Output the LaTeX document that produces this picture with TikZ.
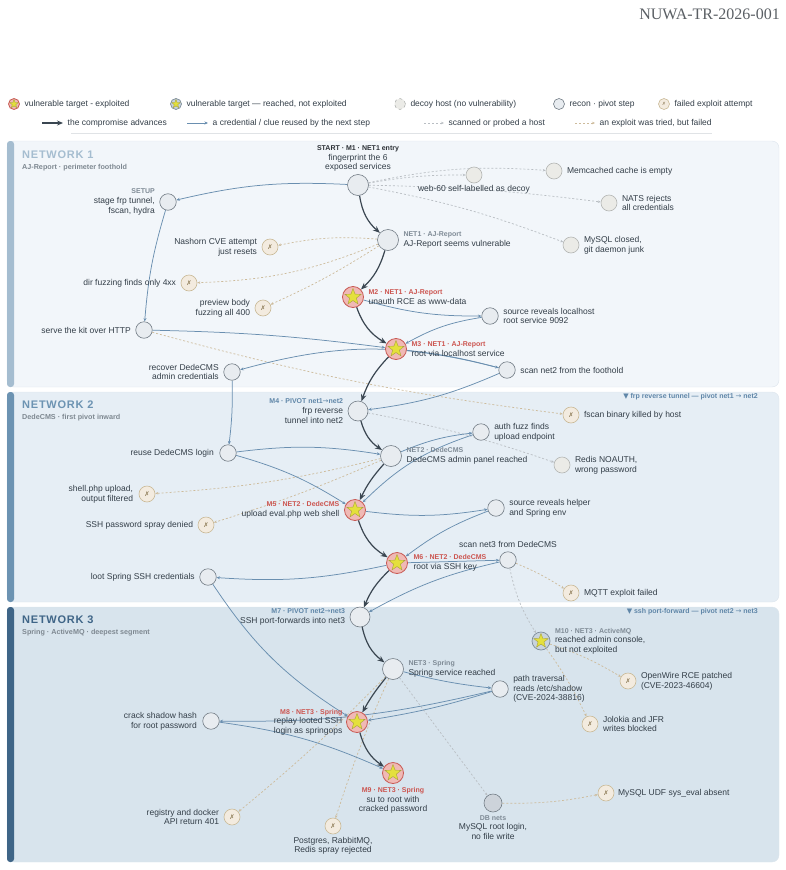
\documentclass[tikz,border=0pt]{standalone}
\usepackage{fontspec}
\setmainfont{Liberation Sans}
\newfontfamily\titlefont{Liberation Serif}
\newfontfamily\symfont{DejaVu Sans}
\newfontfamily\netfont[LetterSpace=7]{Liberation Sans}
\usetikzlibrary{shapes.geometric,arrows.meta,positioning}

\definecolor{ink}{HTML}{333E48}
\definecolor{tagGray}{HTML}{7F8B96}
\definecolor{tagRed}{HTML}{CC5550}
\definecolor{tagBlue}{HTML}{5F86A8}
\definecolor{tagBlack}{HTML}{2B3036}
\definecolor{advCol}{HTML}{3A4651}
\definecolor{clueCol}{HTML}{6A8FB0}
\definecolor{probeCol}{HTML}{B9BEC3}
\definecolor{failCol}{HTML}{CDBB9B}
\definecolor{hitFill}{HTML}{F0B9B5}
\definecolor{hitDraw}{HTML}{C85A55}
\definecolor{starFill}{HTML}{E4E03C}
\definecolor{starDraw}{HTML}{A9A33A}
\definecolor{reachFill}{HTML}{C8D3DD}
\definecolor{reachDraw}{HTML}{7D8C99}
\definecolor{reconFill}{HTML}{E8ECF0}
\definecolor{reconDraw}{HTML}{737D86}
\definecolor{decoyFill}{HTML}{EBEBE7}
\definecolor{decoyDraw}{HTML}{B4B6B4}
\definecolor{failFill}{HTML}{F3EBDF}
\definecolor{failDraw}{HTML}{C9B996}
\definecolor{failMark}{HTML}{8C7A55}
\definecolor{dbFill}{HTML}{CDD3DA}
\definecolor{panA}{HTML}{F2F6FA}
\definecolor{panB}{HTML}{E6EEF5}
\definecolor{panC}{HTML}{D8E4ED}
\definecolor{panEdge}{HTML}{DCE4EC}
\definecolor{barA}{HTML}{A5BDD0}
\definecolor{barB}{HTML}{6C93B2}
\definecolor{barC}{HTML}{3F6587}
\definecolor{subGray}{HTML}{7E8891}
\definecolor{titleGray}{HTML}{5A5F64}
\definecolor{ruleGray}{HTML}{E0E3E6}

\newcommand{\tagG}[1]{{\color{tagGray}\fontsize{7}{8}\selectfont\bfseries #1}}
\newcommand{\tagR}[1]{{\color{tagRed}\fontsize{7}{8}\selectfont\bfseries #1}}
\newcommand{\tagB}[1]{{\color{tagBlue}\fontsize{7}{8}\selectfont\bfseries #1}}
\newcommand{\tagK}[1]{{\color{tagBlack}\fontsize{7}{8}\selectfont\bfseries #1}}
\newcommand{\xmark}{{\symfont ✗}}
\newcommand{\toarrow}{{\symfont\mdseries →}}

\pgfdeclarelayer{panels}
\pgfdeclarelayer{links}
\pgfsetlayers{panels,links,main}

\begin{document}
\begin{tikzpicture}[x=1pt, y=-1pt, node distance=4pt,
	lbl/.style={inner sep=0.5pt, text=ink, font=\fontsize{8.5}{9.6}\selectfont},
	starmark/.style={star, star points=5, star point ratio=2.4, draw=starDraw, fill=starFill, line width=0.4pt, inner sep=0pt, minimum size=#1},
	hit/.style={circle, draw=hitDraw, fill=hitFill, line width=0.8pt, inner sep=0pt, minimum size=21pt,
		path picture={\node[starmark=#1] at (path picture bounding box.center) {};}},
	hit/.default=17pt,
	reach/.style={circle, draw=reachDraw, fill=reachFill, line width=0.7pt, inner sep=0pt, minimum size=18pt,
		path picture={\node[starmark=#1] at (path picture bounding box.center) {};}},
	reach/.default=15pt,
	recon/.style={circle, draw=reconDraw, fill=reconFill, line width=0.6pt, inner sep=0pt, minimum size=#1},
	recon/.default=16.5pt,
	decoy/.style={circle, draw=decoyDraw, fill=decoyFill, line width=0.6pt, inner sep=0pt, minimum size=16pt},
	failed/.style={circle, draw=failDraw, fill=failFill, line width=0.6pt, inner sep=0pt, minimum size=16pt, text=failMark, font=\fontsize{6.5}{6.5}\selectfont},
	db/.style={circle, draw=reconDraw, fill=dbFill, line width=0.6pt, inner sep=0pt, minimum size=18pt},
	adv/.style={draw=advCol, line width=1.2pt, -{Stealth[length=7pt, width=5.5pt]}},
	clue/.style={draw=clueCol, line width=0.75pt, -{Stealth[length=3.5pt, width=3pt]}},
	probe/.style={draw=probeCol, line width=0.7pt, dash pattern=on 2pt off 2pt, -{Stealth[length=3pt, width=2.5pt]}},
	fail/.style={draw=failCol, line width=0.7pt, dash pattern=on 2pt off 2pt, -{Stealth[length=3pt, width=2.5pt]}},
	nettitle/.style={anchor=west, inner sep=0pt, font=\netfont\fontsize{11}{12}\selectfont\bfseries},
	netsub/.style={anchor=west, inner sep=0pt, text=subGray, font=\fontsize{7.2}{8}\selectfont\bfseries},
	pivotnote/.style={anchor=east, inner sep=0pt, text=tagBlue, font=\fontsize{7}{8}\selectfont\bfseries}]

	\useasboundingbox (0,0) rectangle (786,870);

	% Panels
	\begin{pgfonlayer}{panels}
		\path[fill=panA, draw=panEdge, rounded corners=7pt] (7,141) rectangle (779,387);
		\path[fill=barA, rounded corners=3pt] (7,141) rectangle (14,387);
		\path[fill=panB, draw=panEdge, rounded corners=7pt] (7,392) rectangle (779,602);
		\path[fill=barB, rounded corners=3pt] (7,392) rectangle (14,602);
		\path[fill=panC, draw=panEdge, rounded corners=7pt] (7,607) rectangle (779,862);
		\path[fill=barC, rounded corners=3pt] (7,607) rectangle (14,862);
	\end{pgfonlayer}

	\node[anchor=east, inner sep=0pt, text=titleGray, font=\titlefont\fontsize{16}{16}\selectfont] (DocId) at (780,14) {NUWA-TR-2026-001};

	% Legend
	\node[hit=9pt, minimum size=11pt] (LgHit) at (14,104) {};
	\node[lbl, right=of LgHit] (LgHitTxt) {vulnerable target - exploited};
	\node[reach=9pt, minimum size=11pt] (LgReach) at (176,104) {};
	\node[lbl, right=of LgReach] (LgReachTxt) {vulnerable target — reached, not exploited};
	\node[decoy, minimum size=11pt, dashed] (LgDecoy) at (400,104) {};
	\node[lbl, right=of LgDecoy] (LgDecoyTxt) {decoy host (no vulnerability)};
	\node[recon=11pt] (LgRecon) at (559,104) {};
	\node[lbl, right=of LgRecon] (LgReconTxt) {recon · pivot step};
	\node[failed, minimum size=11pt, font=\fontsize{4.5}{5}\selectfont] (LgFail) at (664,104) {\xmark};
	\node[lbl, right=of LgFail] (LgFailTxt) {failed exploit attempt};

	\coordinate (LgAdvA) at (42,123);
	\coordinate (LgAdvB) at (63,123);
	\draw[adv, -{Stealth[length=6pt, width=5pt]}] (LgAdvA) -- (LgAdvB);
	\node[lbl, right=of LgAdvB] (LgAdvTxt) {the compromise advances};
	\coordinate (LgClueA) at (187,123);
	\coordinate (LgClueB) at (208,123);
	\draw[clue] (LgClueA) -- (LgClueB);
	\node[lbl, right=of LgClueB] (LgClueTxt) {a credential / clue reused by the next step};
	\coordinate (LgProbeA) at (424,123);
	\coordinate (LgProbeB) at (444,123);
	\draw[probe] (LgProbeA) -- (LgProbeB);
	\node[lbl, right=of LgProbeB] (LgProbeTxt) {scanned or probed a host};
	\coordinate (LgFailA) at (575,123);
	\coordinate (LgFailB) at (595,123);
	\draw[fail] (LgFailA) -- (LgFailB);
	\node[lbl, right=of LgFailB] (LgFailLineTxt) {an exploit was tried, but failed};
	\draw[ruleGray, line width=0.6pt] (71,133) -- (712,133);

	% Network 1
	\node[nettitle, text=barA] (Net1Title) at (22,155) {NETWORK 1};
	\node[netsub] (Net1Sub) at (22,167.5) {AJ-Report · perimeter foothold};

	\node[recon=21pt] (Start) at (358,185) {};
	\node[lbl, above=2pt of Start, align=center] (StartTxt) {\tagK{START · M1 · NET1 entry}\\fingerprint the 6\\exposed services};
	\node[recon] (Setup) at (168,202) {};
	\node[lbl, left=of Setup, align=right] (SetupTxt) {\tagG{SETUP}\\stage frp tunnel,\\fscan, hydra};
	\node[decoy] (Web60) at (474,175) {};
	\node[lbl, below=1.5pt of Web60] (Web60Txt) {web-60 self-labelled as decoy};
	\node[decoy] (Memcached) at (554,171) {};
	\node[lbl, right=of Memcached] (MemcachedTxt) {Memcached cache is empty};
	\node[decoy] (Nats) at (609,203) {};
	\node[lbl, right=of Nats, align=left] (NatsTxt) {NATS rejects\\all credentials};
	\node[decoy] (MysqlClosed) at (571,245) {};
	\node[lbl, right=of MysqlClosed, align=left] (MysqlClosedTxt) {MySQL closed,\\git daemon junk};
	\node[recon=21pt] (Net1) at (388,240) {};
	\node[lbl, right=of Net1, align=left] (Net1Txt) {\tagG{NET1 · AJ-Report}\\AJ-Report seems vulnerable};
	\node[failed] (Nashorn) at (270,247) {\xmark};
	\node[lbl, left=of Nashorn, align=right] (NashornTxt) {Nashorn CVE attempt\\just resets};
	\node[failed] (DirFuzz) at (189,283) {\xmark};
	\node[lbl, left=of DirFuzz] (DirFuzzTxt) {dir fuzzing finds only 4xx};
	\node[failed] (Preview) at (263,308) {\xmark};
	\node[lbl, left=of Preview, align=right] (PreviewTxt) {preview body\\fuzzing all 400};
	\node[hit] (M2) at (353,297) {};
	\node[lbl, right=of M2, align=left] (M2Txt) {\tagR{M2 · NET1 · AJ-Report}\\unauth RCE as www-data};
	\node[recon] (SrcLocal) at (490,316) {};
	\node[lbl, right=of SrcLocal, align=left] (SrcLocalTxt) {source reveals localhost\\root service 9092};
	\node[hit] (M3) at (396,349) {};
	\node[lbl, right=of M3, align=left] (M3Txt) {\tagR{M3 · NET1 · AJ-Report}\\root via localhost service};
	\node[recon] (Serve) at (144,330) {};
	\node[lbl, left=of Serve] (ServeTxt) {serve the kit over HTTP};
	\node[recon] (ScanNet2) at (507,370) {};
	\node[lbl, right=of ScanNet2] (ScanNet2Txt) {scan net2 from the foothold};
	\node[recon] (Recover) at (232,372) {};
	\node[lbl, left=of Recover, align=right] (RecoverTxt) {recover DedeCMS\\admin credentials};

	% Network 2
	\node[nettitle, text=barB] (Net2Title) at (22,405) {NETWORK 2};
	\node[netsub] (Net2Sub) at (22,418) {DedeCMS · first pivot inward};
	\node[pivotnote] (Pivot12) at (758,397) {{\symfont ▼} frp reverse tunnel — pivot net1 \toarrow{} net2};

	\node[recon=20pt] (M4) at (358,411) {};
	\node[lbl, left=of M4, align=right] (M4Txt) {\tagB{M4 · PIVOT net1\toarrow net2}\\frp reverse\\tunnel into net2};
	\node[failed] (Fscan) at (571,415) {\xmark};
	\node[lbl, right=of Fscan] (FscanTxt) {fscan binary killed by host};
	\node[recon] (AuthFuzz) at (481,432) {};
	\node[lbl, right=of AuthFuzz, align=left] (AuthFuzzTxt) {auth fuzz finds\\upload endpoint};
	\node[recon=21pt] (Net2) at (391,456) {};
	\node[lbl, right=of Net2, align=left] (Net2Txt) {\tagG{NET2 · DedeCMS}\\DedeCMS admin panel reached};
	\node[recon] (Reuse) at (228,453) {};
	\node[lbl, left=5pt of Reuse] (ReuseTxt) {reuse DedeCMS login};
	\node[decoy] (Redis) at (562,465) {};
	\node[lbl, right=of Redis, align=left] (RedisTxt) {Redis NOAUTH,\\wrong password};
	\node[failed] (ShellUp) at (147,494) {\xmark};
	\node[lbl, left=5pt of ShellUp, align=right] (ShellUpTxt) {shell.php upload,\\output filtered};
	\node[hit] (M5) at (355,510) {};
	\node[lbl, left=of M5, align=right] (M5Txt) {\tagR{M5 · NET2 · DedeCMS}\\upload eval.php web shell};
	\node[recon] (SrcHelper) at (496,508) {};
	\node[lbl, right=of SrcHelper, align=left] (SrcHelperTxt) {source reveals helper\\and Spring env};
	\node[failed] (SshSpray) at (206,525) {\xmark};
	\node[lbl, left=of SshSpray] (SshSprayTxt) {SSH password spray denied};
	\node[recon] (ScanNet3) at (508,560) {};
	\node[lbl, above=3pt of ScanNet3] (ScanNet3Txt) {scan net3 from DedeCMS};
	\node[hit] (M6) at (397,563) {};
	\node[lbl, right=5pt of M6, align=left] (M6Txt) {\tagR{M6 · NET2 · DedeCMS}\\root via SSH key};
	\node[recon] (Loot) at (208,577) {};
	\node[lbl, left=of Loot] (LootTxt) {loot Spring SSH credentials};
	\node[failed] (Mqtt) at (571,593) {\xmark};
	\node[lbl, right=of Mqtt] (MqttTxt) {MQTT exploit failed};

	% Network 3
	\node[nettitle, text=barC] (Net3Title) at (22,620) {NETWORK 3};
	\node[netsub] (Net3Sub) at (22,633) {Spring · ActiveMQ · deepest segment};
	\node[pivotnote] (Pivot23) at (758,612) {{\symfont ▼} ssh port-forward — pivot net2 \toarrow{} net3};

	\node[recon=20pt] (M7) at (360,617) {};
	\node[lbl, left=of M7, align=right] (M7Txt) {\tagB{M7 · PIVOT net2\toarrow net3}\\SSH port-forwards into net3};
	\node[reach] (M10) at (541,641) {};
	\node[lbl, right=of M10, align=left] (M10Txt) {\tagG{M10 · NET3 · ActiveMQ}\\reached admin console,\\but not exploited};
	\node[recon=21pt] (Net3) at (393,669) {};
	\node[lbl, right=of Net3, align=left] (Net3Txt) {\tagG{NET3 · Spring}\\Spring service reached};
	\node[recon] (PathTrav) at (500,689) {};
	\node[lbl, right=of PathTrav, align=left] (PathTravTxt) {path traversal\\reads /etc/shadow\\(CVE-2024-38816)};
	\node[failed] (OpenWire) at (628,681) {\xmark};
	\node[lbl, right=of OpenWire, align=left] (OpenWireTxt) {OpenWire RCE patched\\(CVE-2023-46604)};
	\node[failed] (Jolokia) at (590,724) {\xmark};
	\node[lbl, right=of Jolokia, align=left] (JolokiaTxt) {Jolokia and JFR\\writes blocked};
	\node[recon] (Crack) at (211,721) {};
	\node[lbl, left=5pt of Crack, align=right] (CrackTxt) {crack shadow hash\\for root password};
	\node[hit] (M8) at (357,722) {};
	\node[lbl, left=3pt of M8, align=right] (M8Txt) {\tagR{M8 · NET3 · Spring}\\replay looted SSH\\login as springops};
	\node[hit] (M9) at (393,773) {};
	\node[lbl, below=3pt of M9, align=center] (M9Txt) {\tagR{M9 · NET3 · Spring}\\su to root with\\cracked password};
	\node[failed] (Registry) at (232,817) {\xmark};
	\node[lbl, left=of Registry, align=right] (RegistryTxt) {registry and docker\\API return 401};
	\node[failed] (Postgres) at (333,826) {\xmark};
	\node[lbl, below=2pt of Postgres, align=center] (PostgresTxt) {Postgres, RabbitMQ,\\Redis spray rejected};
	\node[db] (DbNets) at (493,803) {};
	\node[lbl, below=2.5pt of DbNets, align=center] (DbNetsTxt) {\tagG{DB nets}\\MySQL root login,\\no file write};
	\node[failed] (Udf) at (606,793) {\xmark};
	\node[lbl, right=3pt of Udf] (UdfTxt) {MySQL UDF sys\_eval absent};

	\begin{pgfonlayer}{links}
	% Probes and failed attempts
	\draw[probe] (Start) to[bend left=8] (Memcached);
	\draw[probe] (Start) to[bend left=5] (Web60);
	\draw[probe] (Start) to[bend left=3] (Nats);
	\draw[probe] (Start) to[bend left=5] (MysqlClosed);
	\draw[fail] (Net1) to[bend right=8] (Nashorn);
	\draw[fail] (Net1) to[bend left=10] (DirFuzz);
	\draw[fail] (Net1) to[bend left=4] (Preview);
	\draw[fail] (Serve) to[bend right=4] (Fscan);
	\draw[probe] (M4) to[bend left=4] (Redis);
	\draw[fail] (Net2) to[bend left=5] (ShellUp);
	\draw[fail] (Net2) to[bend left=3] (SshSpray);
	\draw[fail] (ScanNet3) to[bend left=5] (Mqtt);
	\draw[probe] (ScanNet3) to[bend right=10] (M10);
	\draw[fail] (M10) to[bend left=6] (OpenWire);
	\draw[fail] (M10) to[bend left=5] (Jolokia);
	\draw[fail] (Net3) to[bend right=3] (Postgres);
	\draw[fail] (Net3) to[bend left=3] (Registry);
	\draw[probe] (Net3) to (DbNets);
	\draw[fail] (DbNets) to[bend right=6] (Udf);

	% Credentials and clues
	\draw[clue] (Start) to[bend right=8] (Setup);
	\draw[clue] (Setup) to[bend right=6] (Serve);
	\draw[clue] (Serve) to[bend left=3] (M3);
	\draw[clue] (M2) to[bend right=8] (SrcLocal);
	\draw[clue] (SrcLocal) to[bend right=10] (M3);
	\draw[clue] (M3) to[bend left=4] (ScanNet2);
	\draw[clue] (ScanNet2) to[bend right=15] (Recover);
	\draw[clue] (ScanNet2) to[bend left=8] (M4);
	\draw[clue] (Recover) to[bend left=4] (Reuse);
	\draw[clue] (Reuse) to[bend left=8] (Net2);
	\draw[clue] (Reuse) to[bend left=8] (M5);
	\draw[clue] (Net2) to[bend left=8] (AuthFuzz);
	\draw[clue] (AuthFuzz) to[bend right=13] (M5);
	\draw[clue] (M5) to[bend right=8] (SrcHelper);
	\draw[clue] (SrcHelper) to[bend right=8] (M6);
	\draw[clue] (M6) to[bend left=8] (Loot);
	\draw[clue] (M6) to (ScanNet3);
	\draw[clue] (ScanNet3) to[bend right=8] (M7);
	\draw[clue] (Loot) to[bend right=12] (M8);
	\draw[clue] (Net3) to[bend right=4] (PathTrav);
	\draw[clue] (PathTrav) to[bend left=7] (Crack);
	\draw[clue] (PathTrav) to[bend left=4] (M8);
	\draw[clue] (Crack) to[bend left=8] (M9);

	% The compromise advances
	\draw[adv] (Start) to[bend right=20] (Net1);
	\draw[adv] (Net1) to[bend left=15] (M2);
	\draw[adv] (M2) to[bend right=20] (M3);
	\draw[adv] (M3) to[bend right=12] (M4);
	\draw[adv] (M4) to[bend right=20] (Net2);
	\draw[adv] (Net2) to[bend right=8] (M5);
	\draw[adv] (M5) to[bend right=20] (M6);
	\draw[adv] (M6) to[bend right=12] (M7);
	\draw[adv] (M7) to[bend right=20] (Net3);
	\draw[adv] (Net3) to[bend right=5] (M8);
	\draw[adv] (M8) to[bend right=20] (M9);
	\end{pgfonlayer}
\end{tikzpicture}
\end{document}
